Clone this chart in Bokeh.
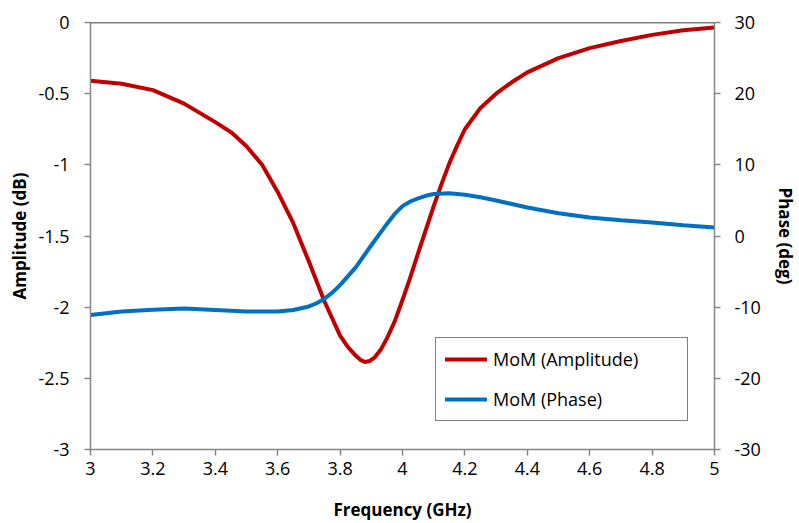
from bokeh.plotting import figure
from bokeh.models import Range1d, LinearAxis, FixedTicker, Legend, LegendItem, Span
from bokeh.embed import file_html
from bokeh.resources import INLINE

# ---- data ----
amp_freq = [3.0, 3.1, 3.2, 3.3, 3.4, 3.45, 3.5, 3.55, 3.6, 3.65, 3.7, 3.75, 3.8, 3.825,
            3.85, 3.865, 3.88, 3.895, 3.91, 3.93, 3.95, 3.975, 4.0, 4.025, 4.05, 4.075,
            4.1, 4.125, 4.15, 4.175, 4.2, 4.25, 4.3, 4.35, 4.4, 4.5, 4.6, 4.7, 4.8, 4.9, 5.0]
amplitude_db = [-0.41, -0.43, -0.475, -0.57, -0.70, -0.77, -0.87, -1.0, -1.19, -1.41,
                -1.68, -1.96, -2.20, -2.28, -2.34, -2.37, -2.385, -2.378, -2.355, -2.30,
                -2.22, -2.10, -1.95, -1.79, -1.62, -1.455, -1.29, -1.135, -0.99, -0.865,
                -0.75, -0.60, -0.50, -0.42, -0.35, -0.25, -0.18, -0.13, -0.087, -0.055, -0.035]

phase_freq = [3.0, 3.1, 3.2, 3.3, 3.4, 3.5, 3.6, 3.65, 3.7, 3.725, 3.75, 3.775, 3.8, 3.85,
              3.9, 3.95, 3.975, 4.0, 4.025, 4.05, 4.075, 4.1, 4.15, 4.2, 4.25, 4.3, 4.4,
              4.5, 4.6, 4.7, 4.8, 4.9, 5.0]
phase_deg = [-11.1, -10.6, -10.35, -10.2, -10.4, -10.6, -10.6, -10.4, -9.9, -9.45, -8.8,
             -7.95, -6.9, -4.4, -1.3, 1.7, 3.1, 4.2, 4.85, 5.3, 5.65, 5.9, 6.0, 5.8, 5.45,
             5.0, 4.0, 3.2, 2.6, 2.2, 1.9, 1.5, 1.2]

x_ticks = [3.0, 3.2, 3.4, 3.6, 3.8, 4.0, 4.2, 4.4, 4.6, 4.8, 5.0]
x_tick_labels = ["3", "3.2", "3.4", "3.6", "3.8", "4", "4.2", "4.4", "4.6", "4.8", "5"]
amp_ticks = [0, -0.5, -1, -1.5, -2, -2.5, -3]
amp_tick_labels = ["0", "-0.5", "-1", "-1.5", "-2", "-2.5", "-3"]
phase_ticks = [30, 20, 10, 0, -10, -20, -30]
phase_tick_labels = ["30", "20", "10", "0", "-10", "-20", "-30"]

series_names = ["MoM (Amplitude)", "MoM (Phase)"]
RED = "#C00000"
BLUE = "#0070C0"
FONT = "Open Sans"
AXIS_GRAY = "#868686"

p = figure(width=799, height=523, x_range=Range1d(3, 5), y_range=Range1d(-3, 0),
           output_backend="svg", toolbar_location=None,
           min_border_left=90, min_border_right=85, min_border_top=22, min_border_bottom=73)
p.extra_y_ranges = {"phase": Range1d(-30, 30)}
p.outline_line_color = None
p.xgrid.visible = False
p.ygrid.visible = False
p.background_fill_color = "white"
p.border_fill_color = "white"

r_amp = p.line(amp_freq, amplitude_db, line_color=RED, line_width=4,
               line_join="round", line_cap="round")
r_ph = p.line(phase_freq, phase_deg, line_color=BLUE, line_width=4,
              line_join="round", line_cap="round", y_range_name="phase")

right_axis = LinearAxis(y_range_name="phase")
p.add_layout(right_axis, "right")

def style_axis(ax, ticks, labels, title, label_standoff, title_standoff):
    ax.ticker = FixedTicker(ticks=ticks)
    ax.major_label_overrides = {t: l for t, l in zip(ticks, labels)}
    ax.axis_label = title
    ax.axis_label_text_font = FONT
    ax.axis_label_text_font_style = "bold"
    ax.axis_label_text_font_size = "17px"
    ax.axis_label_text_color = "black"
    ax.axis_label_standoff = title_standoff
    ax.major_label_text_font = FONT
    ax.major_label_text_font_size = "18px"
    ax.major_label_text_color = "black"
    ax.major_label_standoff = label_standoff
    ax.axis_line_color = AXIS_GRAY
    ax.axis_line_width = 1.5
    ax.major_tick_line_color = AXIS_GRAY
    ax.major_tick_line_width = 1.5
    ax.major_tick_out = 6
    ax.major_tick_in = 0
    ax.minor_tick_line_color = None

style_axis(p.xaxis[0], x_ticks, x_tick_labels, "Frequency (GHz)", 6, 20)
style_axis(p.yaxis[0], amp_ticks, amp_tick_labels, "Amplitude (dB)", 15, 4)
style_axis(right_axis, phase_ticks, phase_tick_labels, "Phase (deg)", 14, 10)

# black top border line
p.add_layout(Span(location=0, dimension="width", line_color="black", line_width=1.5))

legend = Legend(items=[LegendItem(label=series_names[0], renderers=[r_amp]),
                       LegendItem(label=series_names[1], renderers=[r_ph])],
                location=(345, 28))
legend.label_text_font = FONT
legend.label_text_font_size = "18px"
legend.label_text_color = "black"
legend.border_line_color = "black"
legend.border_line_width = 1.5
legend.background_fill_color = "white"
legend.background_fill_alpha = 1
legend.padding = 9
legend.spacing = 16
legend.glyph_width = 42
legend.glyph_height = 20
legend.label_height = 20
legend.label_width = 185
legend.label_standoff = 6
legend.margin = 0
p.add_layout(legend)

open("out.html", "w").write(file_html(p, INLINE))
